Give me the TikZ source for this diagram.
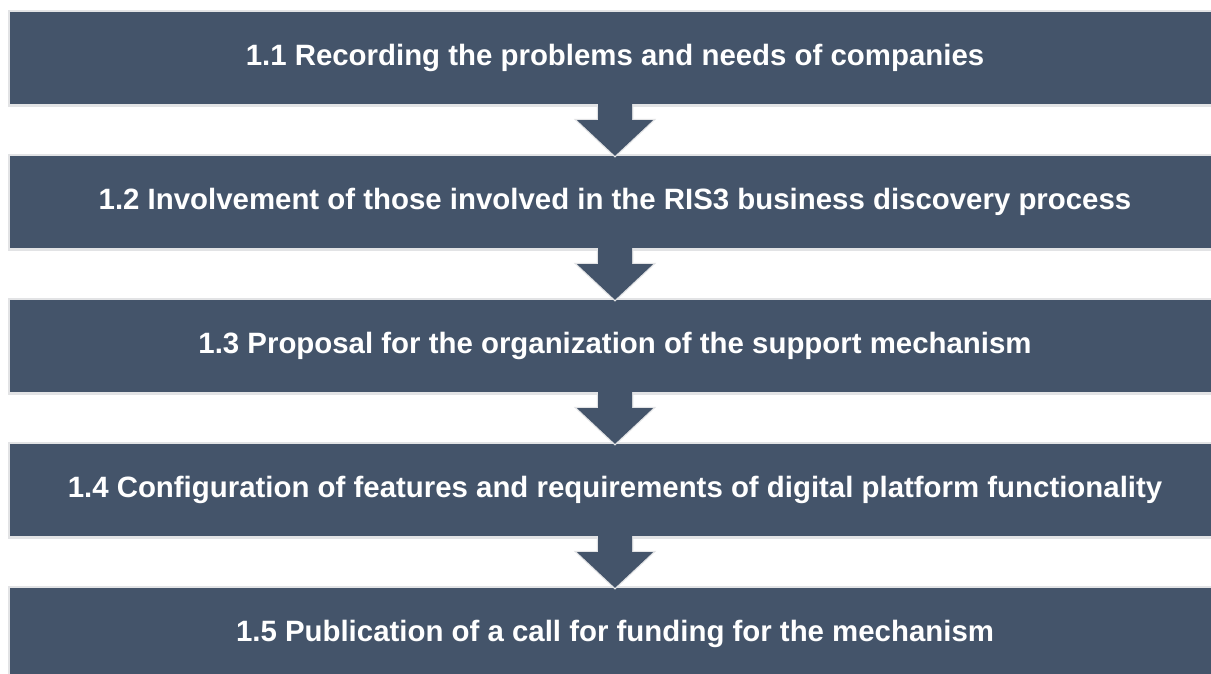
\documentclass[tikz,border=0pt]{standalone}
\usepackage{fontspec}
\setmainfont{Liberation Sans}
\usetikzlibrary{calc}
\definecolor{slate}{HTML}{44546A}
\definecolor{halo}{HTML}{E2E3E5}
\begin{document}
\begin{tikzpicture}[x=1pt,y=-1pt,
  stage/.style={fill=slate, preaction={draw=halo, line width=5pt},
    minimum width=1210pt, minimum height=92pt, inner sep=0pt,
    text=white, font=\bfseries\fontsize{29.4}{34}\selectfont},
  arrowfill/.style={fill=slate},
  arrowedge/.style={draw=halo, line width=2.5pt, line join=miter}]
\useasboundingbox (0,0) rectangle (1211,673);
\fill[white] (0,0) rectangle (1211,673);

% five process stages, evenly spaced
\node[stage] (b1) at (615,58)  {1.1 Recording the problems and needs of companies};
\node[stage] (b2) at (615,202) {1.2 Involvement of those involved in the RIS3 business discovery process};
\node[stage] (b3) at (615,346) {1.3 Proposal for the organization of the support mechanism};
\node[stage] (b4) at (615,490) {1.4 Configuration of features and requirements of digital platform functionality};
\node[stage] (b5) at (615,634) {1.5 Publication of a call for funding for the mechanism};

% block arrows joining consecutive stages
\foreach \a/\b in {b1/b2, b2/b3, b3/b4, b4/b5}{
  \draw[arrowedge] ([xshift=-17pt]\a.south) -- ([xshift=-17pt,yshift=-16pt]\a.south)
     -- ([xshift=-38pt,yshift=-16pt]\a.south) -- (\b.north)
     -- ([xshift=38pt,yshift=-16pt]\a.south) -- ([xshift=17pt,yshift=-16pt]\a.south)
     -- ([xshift=17pt]\a.south);
  \fill[arrowfill] ([xshift=-17pt,yshift=3pt]\a.south) -- ([xshift=-17pt,yshift=-16pt]\a.south)
     -- ([xshift=-38pt,yshift=-16pt]\a.south) -- (\b.north)
     -- ([xshift=38pt,yshift=-16pt]\a.south) -- ([xshift=17pt,yshift=-16pt]\a.south)
     -- ([xshift=17pt,yshift=3pt]\a.south) -- cycle;
}
\end{tikzpicture}
\end{document}
